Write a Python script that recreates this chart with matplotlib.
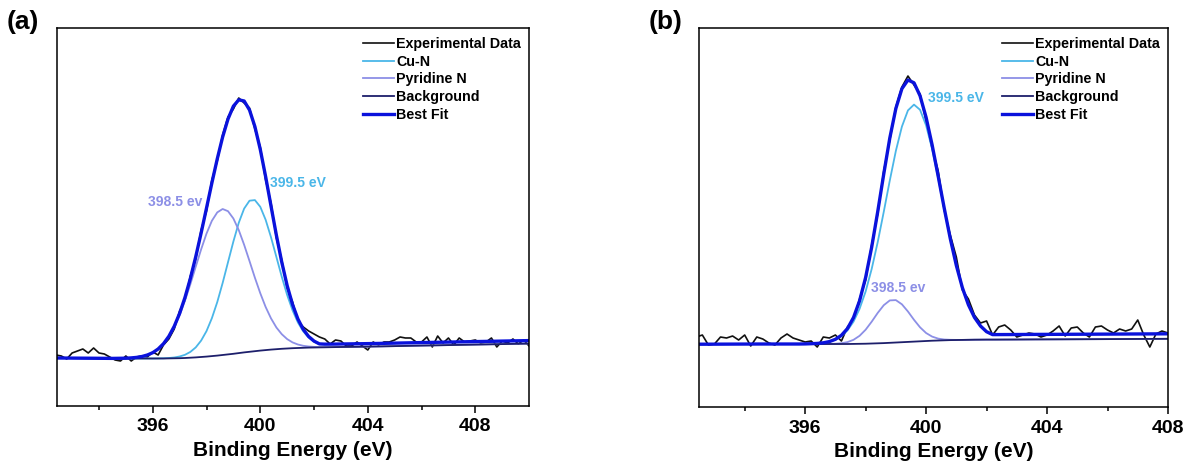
import numpy as np
import matplotlib
matplotlib.use('Agg')
import matplotlib.pyplot as plt

plt.rcParams['font.family'] = ['Liberation Sans', 'DejaVu Sans']
plt.rcParams['font.weight'] = 'bold'

# ---------------- panel (a) ----------------
exp_x_a = np.round(np.arange(392.4, 410.01, 0.2), 1)
exp_y_a = [51, 50, 47, 53, 55, 57, 53, 58, 53, 52, 49, 46, 45, 50, 45, 49, 50, 49, 54, 51, 61, 67,
           77, 95, 106, 130, 147, 176, 195, 226, 245, 271, 289, 297, 308, 303, 298, 277, 259, 226,
           203, 168, 146, 118, 104, 85, 79,
           75, 72, 69, 67, 62, 66, 65, 60, 60, 64, 60, 56, 64, 61, 64, 64, 66, 69, 68, 68, 64, 64,
           69, 59, 70, 63, 68, 61, 68, 64, 65, 66, 63, 64, 68, 59, 65, 63, 67, 62, 66, 60]

fit_x_a = np.concatenate([[392.4, 393.5, 394.5], np.round(np.arange(395.0, 403.01, 0.2), 1),
                          [403.6, 404.5, 406.0, 408.0, 410.0]])
bg_a = [48.0, 47.8, 47.6,
        47.5, 47.5, 47.5, 47.5, 47.5, 47.5, 47.5, 47.5, 47.6, 47.7, 47.8, 48.0, 48.3, 48.6, 49.0,
        49.4, 49.9, 50.4, 51.0, 51.6, 52.2, 52.9, 53.6, 54.2, 54.8, 55.4, 55.9, 56.4, 56.8, 57.2,
        57.5, 57.8, 58.0, 58.2, 58.4, 58.5, 58.6, 58.7, 58.8, 58.9, 59.0,
        59.2, 59.6, 60.4, 61.4, 62.4]
pyr_a = [48.0, 47.8, 47.6,
         47.8, 48.1, 48.6, 49.5, 51.0, 53.3, 56.9, 62.1, 69.3, 78.9, 90.9, 105.4, 121.8, 139.3,
         156.6, 172.4, 185.2, 193.6, 197.0, 194.8, 187.5, 175.9, 161.2, 144.9, 128.3, 112.8, 99.0,
         87.6, 78.5, 71.8, 66.9, 63.6, 61.5, 60.2, 59.5, 59.1, 58.9, 58.85, 58.87, 58.9, 59.0,
         59.2, 59.6, 60.4, 61.4, 62.4]
cun_a = [48.0, 47.8, 47.6,
         47.5, 47.5, 47.5, 47.5, 47.5, 47.5, 47.6, 47.7, 48.0, 48.5, 49.5, 51.2, 54.1, 58.6, 65.4,
         74.9, 87.8, 103.9, 123.0, 143.8, 164.5, 183.2, 197.4, 205.3, 205.9, 199.2, 186.2, 168.7,
         149.0, 129.2, 111.0, 95.7, 83.5, 74.6, 68.4, 64.3, 61.8, 61.7, 61.8, 61.9, 62.0,
         62.2, 62.6, 63.4, 64.4, 65.4]
best_a = [48.0, 47.8, 47.6,
          47.8, 48.1, 48.6, 49.5, 51.0, 53.3, 57.0, 62.3, 69.7, 79.7, 92.6, 108.6, 127.6, 149.3,
          173.0, 197.9, 223.1, 247.1, 269.0, 287.0, 299.8, 306.2, 305.0, 296.0, 279.4, 256.6,
          229.3, 199.9, 170.7, 143.8, 120.4, 101.5, 87.0, 76.6, 69.5, 64.9, 62.1, 61.85, 61.87,
          61.9, 62.0,
          62.2, 62.6, 63.4, 64.4, 65.4]

# ---------------- panel (b) ----------------
exp_x_b = np.round(np.arange(392.4, 408.01, 0.2), 1)
exp_y_b = [70, 72, 62, 63, 70, 69, 71, 67, 72, 61, 70, 68, 64, 62, 69, 73, 69, 67, 65, 66, 60, 70,
           69, 72, 66,
           80, 87, 108, 127, 162, 193, 236, 267, 300, 320, 331, 322, 313, 286, 259, 236, 197, 172,
           150, 117, 108, 92, 84, 86,
           72, 80, 82, 77, 70, 72, 74, 73, 70, 72, 76, 81, 71, 79, 80, 74, 70, 80, 81, 77, 74, 78,
           76, 78, 87, 72, 60, 73, 76, 74]

fit_x_b = np.concatenate([[392.5, 393.5, 394.5], np.round(np.arange(395.0, 403.01, 0.2), 1),
                          [403.6, 404.5, 406.0, 408.0]])
bg_b = [62.8, 62.9, 63.0,
        63.0, 63.0, 63.0, 63.0, 63.0, 63.0, 63.0, 63.0, 63.0, 63.0, 63.0, 63.0, 63.0, 63.1, 63.2,
        63.3, 63.5, 63.7, 63.9, 64.2, 64.5, 64.8, 65.1, 65.4, 65.7, 66.0, 66.3, 66.5, 66.7, 66.9,
        67.0, 67.1, 67.2, 67.3, 67.35, 67.4, 67.4, 67.42, 67.45, 67.47, 67.5,
        67.6, 67.7, 67.9, 68.2]
pyr_b = [62.8, 62.9, 63.0,
         63.0, 63.0, 63.0, 63.0, 63.0, 63.0, 63.0, 63.0, 63.0, 63.1, 63.3, 63.8, 64.9, 67.2, 71.2,
         77.3, 85.3, 94.1, 101.8, 106.6, 106.9, 102.7, 95.5, 87.2, 79.7, 74.0, 70.4, 68.4, 67.5,
         67.2, 67.1, 67.1, 67.2, 67.3, 67.35, 67.4, 67.4, 67.42, 67.45, 67.47, 67.5,
         67.6, 67.7, 67.9, 68.2]
cun_b = [62.8, 62.9, 63.0,
         63.0, 63.0, 63.0, 63.0, 63.0, 63.1, 63.3, 63.6, 64.2, 65.3, 67.4, 70.9, 76.6, 85.4, 98.2,
         115.5, 138.0, 164.9, 195.2, 226.6, 256.1, 280.4, 296.6, 302.4, 297.2, 281.6, 257.9,
         228.9, 198.0, 168.1, 141.5, 119.3, 102.2, 89.6, 81.0, 75.3, 72.4, 72.42, 72.45, 72.47,
         72.5,
         72.6, 72.7, 72.9, 73.2]
best_b = [62.8, 62.9, 63.0,
          63.0, 63.0, 63.0, 63.0, 63.0, 63.1, 63.3, 63.6, 64.2, 65.4, 67.7, 71.7, 78.5, 89.5,
          106.2, 129.5, 159.8, 195.3, 233.1, 269.0, 298.5, 318.3, 327.0, 324.2, 311.2, 289.6,
          262.0, 230.8, 198.8, 168.4, 141.6, 119.3, 102.2, 89.6, 81.0, 75.3, 72.4, 72.42, 72.45,
          72.47, 72.5,
          72.6, 72.7, 72.9, 73.2]

labels = ['Experimental Data', 'Cu-N', 'Pyridine N', 'Background', 'Best Fit']
c_exp, c_cun, c_pyr, c_bg, c_best = '#111111', '#4ab6e8', '#8c8fe6', '#1d1f6b', '#0a12dc'

fig = plt.figure(figsize=(11.86, 4.65), dpi=100)
ax_a = fig.add_axes([0.0481, 0.1269, 0.3980, 0.8129])
ax_b = fig.add_axes([0.5894, 0.1247, 0.3954, 0.8151])

panels = [
    (ax_a, exp_x_a, exp_y_a, fit_x_a, cun_a, pyr_a, bg_a, best_a, (392.44, 410.0), 378),
    (ax_b, exp_x_b, exp_y_b, fit_x_b, cun_b, pyr_b, bg_b, best_b, (392.49, 408.0), 379),
]
for ax, ex, ey, fx, cu, py, bg, best, xl, ytop in panels:
    ax.plot(ex, ey, color=c_exp, lw=1.2, label=labels[0])
    ax.plot(fx, cu, color=c_cun, lw=1.3, label=labels[1])
    ax.plot(fx, py, color=c_pyr, lw=1.3, label=labels[2])
    ax.plot(fx, bg, color=c_bg, lw=1.3, label=labels[3])
    ax.plot(fx, best, color=c_best, lw=2.4, label=labels[4])
    ax.set_xlim(*xl)
    ax.set_ylim(0, ytop)
    ax.set_yticks([])
    ax.set_xticks([396, 400, 404, 408])
    ax.set_xticks([394, 398, 402, 406], minor=True)
    ax.tick_params(axis='x', which='major', direction='out', length=5, width=1.1, labelsize=14, pad=4)
    ax.tick_params(axis='x', which='minor', direction='out', length=3, width=1.1)
    for s in ax.spines.values():
        s.set_linewidth(1.1)
    ax.set_xlabel('Binding Energy (eV)', fontsize=15, fontweight='bold', labelpad=4)
    ax.legend(loc='upper right', bbox_to_anchor=(1.0, 0.997), frameon=False,
              prop={'size': 10.3, 'weight': 'bold'}, handlelength=2.2, handletextpad=0.15,
              labelspacing=0.26, borderaxespad=0.15)

ax_a.text(397.85, 204, '398.5 ev', color=c_pyr, fontsize=10, fontweight='bold', ha='right', va='center')
ax_a.text(400.35, 223, '399.5 eV', color=c_cun, fontsize=10, fontweight='bold', ha='left', va='center')
ax_b.text(399.08, 119, '398.5 ev', color=c_pyr, fontsize=10, fontweight='bold', ha='center', va='center')
ax_b.text(400.05, 309, '399.5 eV', color=c_cun, fontsize=10, fontweight='bold', ha='left', va='center')

fig.text(0.006, 0.952, '(a)', fontsize=19, fontweight='bold', ha='left', va='center')
fig.text(0.547, 0.952, '(b)', fontsize=19, fontweight='bold', ha='left', va='center')

fig.savefig('out.png', dpi=100)
